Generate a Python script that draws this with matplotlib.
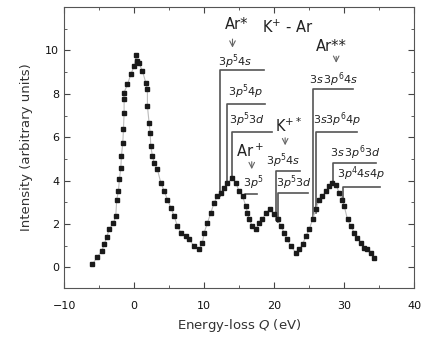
import matplotlib
matplotlib.use('Agg')
import matplotlib.pyplot as plt
from matplotlib.ticker import MultipleLocator

# energy loss (eV) and intensity
q = [-5.96, -5.24, -4.62, -4.29, -3.90, -3.57, -2.95, -2.62, -2.48, -2.24,
     -2.10, -1.90, -1.81, -1.62, -1.52, -1.43, -1.43, -1.45, -0.95, -0.48,
     0.00, 0.29, 0.48, 0.71, 1.19, 1.67, 1.90, 1.90, 2.14, 2.29,
     2.38, 2.62, 2.86, 3.33, 3.81, 4.29, 4.76, 5.24, 5.71, 6.19,
     6.67, 7.38, 7.86, 8.57, 9.29, 9.76, 10.00, 10.48, 10.95, 11.43,
     11.90, 12.38, 12.86, 13.33, 14.05, 14.52, 15.00, 15.48, 15.95, 16.19,
     16.43, 16.90, 17.38, 17.86, 18.33, 18.81, 19.43, 20.00, 20.48, 20.95,
     21.43, 21.90, 22.38, 23.10, 23.57, 24.05, 24.52, 25.00, 25.48, 25.95,
     26.43, 26.90, 27.38, 27.86, 28.33, 28.81, 29.29, 29.76, 30.00, 30.48,
     30.95, 31.43, 31.90, 32.38, 32.86, 33.33, 33.81, 34.29]
intensity = [0.14, 0.49, 0.75, 1.06, 1.41, 1.75, 2.06, 2.37, 3.13, 3.52,
             4.06, 4.59, 5.13, 5.74, 6.36, 7.13, 7.74, 8.05, 8.43, 8.89,
             9.28, 9.77, 9.50, 9.40, 9.05, 8.51, 8.20, 7.43, 6.67, 6.20,
             5.59, 5.13, 4.82, 4.52, 3.90, 3.52, 3.13, 2.75, 2.37, 1.90,
             1.60, 1.44, 1.29, 0.98, 0.83, 1.14, 1.60, 2.06, 2.52, 2.98,
             3.29, 3.44, 3.67, 3.90, 4.13, 3.90, 3.52, 3.29, 2.83, 2.52,
             2.21, 1.90, 1.75, 2.06, 2.21, 2.52, 2.67, 2.44, 2.21, 1.90,
             1.60, 1.29, 0.98, 0.68, 0.83, 1.06, 1.44, 1.75, 2.21, 2.67,
             3.13, 3.29, 3.52, 3.75, 3.90, 3.82, 3.44, 3.13, 2.83, 2.21,
             1.90, 1.60, 1.37, 1.14, 0.91, 0.83, 0.68, 0.45]

# level markers: (label, x of vertical, y of vertical bottom, y top, x end, label x, label y)
levels = [
    (r'$3p^54s$', 12.29, 3.3, 9.09, 18.48, 14.4, 9.5),
    (r'$3p^54p$', 13.24, 3.8, 7.51, 18.70, 15.9, 8.1),
    (r'$3p^53d$', 13.95, 4.1, 6.24, 19.67, 16.1, 6.8),
    (r'$3p^5$', 15.86, 3.2, 3.40, 17.52, 17.0, 3.9),
    (r'$3p^54s$', 20.24, 2.2, 4.44, 23.71, 21.3, 4.9),
    (r'$3p^53d$', 20.62, 2.1, 3.44, 24.90, 22.8, 3.9),
    (r'$3s\,3p^64s$', 25.48, 2.2, 8.23, 31.24, 28.5, 8.65),
    (r'$3s3p^64p$', 26.00, 2.5, 6.24, 31.81, 29.0, 6.8),
    (r'$3s\,3p^63d$', 28.38, 3.9, 4.82, 34.57, 31.6, 5.3),
    (r'$3p^44s4p$', 29.90, 3.1, 3.70, 35.14, 32.5, 4.3),
]

# group labels with arrows: (text, label x, label y, arrow x, arrow top, arrow bottom)
groups = [
    ('Ar*', 14.6, 11.2, 14.05, 10.65, 10.0),
    ('Ar$^+$', 16.6, 5.35, 16.8, 5.0, 4.4),
    ('K$^{+*}$', 22.0, 6.55, 21.57, 6.1, 5.5),
    ('Ar**', 28.1, 10.2, 28.86, 9.85, 9.3),
]

fig = plt.figure(figsize=(4.36, 3.5), dpi=100)
ax = fig.add_axes([0.147, 0.177, 0.803, 0.803])

ax.plot(q, intensity, color='#bbbbbb', lw=0.8, zorder=2)
ax.plot(q, intensity, ls='none', marker='s', ms=3.4, color='#1a1a1a', zorder=3)

for lab, xv, yb, yt, xe, lx, ly in levels:
    ax.plot([xv, xv, xe], [yb, yt, yt], color='#555555', lw=1.2, zorder=1)
    ax.text(lx, ly, lab, fontsize=8, ha='center', va='center', color='#222222')

for txt, lx, ly, axx, ya, yb in groups:
    ax.text(lx, ly, txt, fontsize=10.5, ha='center', va='center', color='#222222')
    ax.annotate('', xy=(axx, yb), xytext=(axx, ya),
                arrowprops=dict(arrowstyle='->', color='#666666', lw=0.8))

ax.text(22.0, 11.05, 'K$^{+}$ - Ar', fontsize=10.5, ha='center', va='center', color='#222222')

ax.set_xlim(-10, 40)
ax.set_ylim(-0.95, 12)
ax.xaxis.set_major_locator(MultipleLocator(10))
ax.xaxis.set_minor_locator(MultipleLocator(5))
ax.set_yticks([0, 2, 4, 6, 8, 10])
ax.yaxis.set_minor_locator(MultipleLocator(1))
ax.tick_params(which='both', direction='in', top=True, right=True,
               labelsize=8, colors='#444444', labelcolor='#111111')
ax.tick_params(which='major', length=4)
ax.tick_params(which='minor', length=2.5)
ax.tick_params(axis='x', which='major', pad=9)
for s in ax.spines.values():
    s.set_color('#555555')

ax.set_xlabel('Energy-loss $Q$ (eV)', fontsize=9.5, color='#333333', labelpad=5)
ax.set_ylabel('Intensity (arbitrary units)', fontsize=9.5, color='#333333', labelpad=9)

fig.savefig('out.png', dpi=100)
